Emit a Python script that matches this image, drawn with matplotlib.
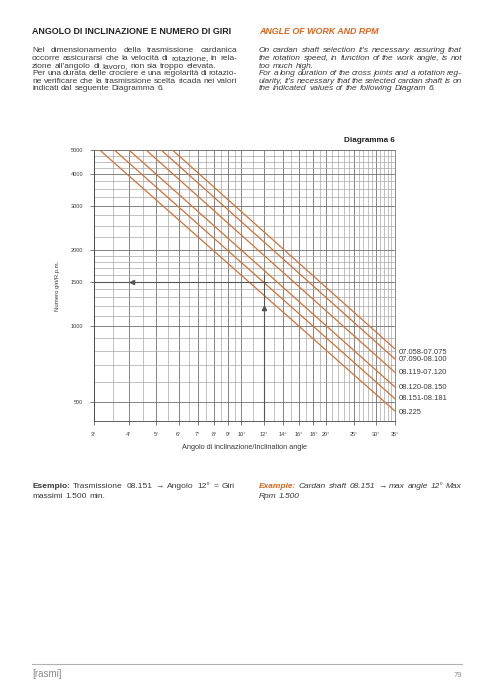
import matplotlib
matplotlib.use("Agg")
import matplotlib.pyplot as plt
from matplotlib.ticker import FixedLocator, NullFormatter

W, H = 494, 700

# --- chart data ---
models = ["07.058-07.075", "07.090-08.100", "08.119-07.120",
          "08.120-08.150", "08.151-08.181", "08.225"]
angle_at_5000 = [5.7, 5.2, 4.6, 4.0, 3.55, 3.15]   # angle where each line leaves the top
rpm_at_35 = [812, 740, 655, 573, 515, 460]          # rpm where each line meets 35 deg
x_ticks = [3, 4, 5, 6, 7, 8, 9, 10, 12, 14, 16, 18, 20, 25, 30, 35]
y_ticks = [500, 1000, 1500, 2000, 3000, 4000, 5000]
x_minor = [3.5, 4.5, 5.5, 6.5, 7.5, 8.5, 9.5, 11, 13, 15, 17, 19,
           21, 22, 23, 24, 26, 27, 28, 29, 31, 32, 33, 34]
y_minor = [600, 700, 800, 900, 1100, 1200, 1300, 1400, 1600, 1700, 1800, 1900,
           2250, 2500, 2750, 3250, 3500, 3750, 4250, 4500, 4750]
example_angle = 12
example_rpm = 1500

ORANGE = "#d9661f"
LINE_ORANGE = "#cf7236"
TXT = "#3a3a3a"
BODY = 6.0

plt.rcParams['font.family'] = ['Liberation Sans', 'DejaVu Sans']

fig = plt.figure(figsize=(W / 100, H / 100), dpi=100)
renderer = fig.canvas.get_renderer()


def fx(x):
    return x / W


def fy(y):
    return 1 - y / H


def text_line(x0, x1, y, words, size=BODY, justify=True, **kw):
    # words: list of (word, extra style); spread to fill x0..x1 when justified
    objs = []
    for w, st in words:
        opts = dict(fontsize=size, color=TXT, va='baseline', ha='left')
        opts.update(kw)
        opts.update(st)
        objs.append(fig.text(fx(x0), fy(y), w, **opts))
    widths = [o.get_window_extent(renderer).width for o in objs]
    if justify and len(objs) > 1:
        gap = (x1 - x0 - sum(widths)) / (len(objs) - 1)
    else:
        gap = size * 100 / 72 * 0.3
    x = x0
    for o, wd in zip(objs, widths):
        o.set_x(fx(x))
        x += wd + gap


def para(x0, x1, y0, lines, justify_flags, step=7.6, **kw):
    for i, (ln, j) in enumerate(zip(lines, justify_flags)):
        text_line(x0, x1, y0 + i * step, [(w, {}) for w in ln.split()], justify=j, **kw)


# --- headings and body text ---
fig.text(fx(32), fy(34.3), "ANGOLO DI INCLINAZIONE E NUMERO DI GIRI",
         fontsize=6.4, fontweight='bold', color='#222222', va='baseline')
fig.text(fx(259), fy(34.3), "ANGLE OF WORK AND RPM",
         fontsize=6.4, fontweight='bold', style='italic', color=ORANGE, va='baseline')

left_lines = [
    "Nel dimensionamento della trasmissione cardanica",
    "occorre assicurarsi che la velocità di rotazione, in rela-",
    "zione all'angolo di lavoro, non sia troppo elevata.",
    "Per una durata delle crociere e una regolarità di rotazio-",
    "ne verificare che la trasmissione scelta ricada nei valori",
    "indicati dal seguente Diagramma 6.",
]
right_lines = [
    "On cardan shaft selection it's necessary assuring that",
    "the rotation speed, in function of the work angle, is not",
    "too much high.",
    "For a long duration of the cross joints and a rotation reg-",
    "ularity, it's necessary that the selected cardan shaft is on",
    "the indicated values of the following Diagram 6.",
]
flags = [True, True, False, True, True, False]
para(32, 237, 52.5, left_lines, flags)
para(259, 462, 52.5, right_lines, flags, style='italic')

fig.text(fx(395), fy(141.7), "Diagramma 6", fontsize=5.9, fontweight='bold',
         color='#222222', ha='right', va='baseline')

# --- chart ---
ax = fig.add_axes([fx(93.7), fy(421.1), (395 - 93.7) / W, (421.1 - 150) / H])
ax.set_xscale('log')
ax.set_yscale('log')

label_dy = [-2.2, 0, 0, 0, 0, -1.2]
for m, a0, r1, dy in zip(models, angle_at_5000, rpm_at_35, label_dy):
    ax.plot([a0, 35], [5000, r1], color=LINE_ORANGE, lw=0.9, solid_capstyle='butt', zorder=3)
    ax.annotate(m, xy=(35, r1), xytext=(2.5, dy), textcoords='offset points',
                fontsize=5.4, color=TXT, va='center', ha='left', annotation_clip=False)

# example arrows
ax.plot([example_angle, example_angle], [420, 1600], color='#555555', lw=0.8, zorder=4)
ax.plot([3, example_angle * 1.025], [example_rpm, example_rpm], color='#555555', lw=0.8, zorder=4)
ax.plot(example_angle, 1180, marker='^', ms=3, color='#555555', zorder=5)
ax.plot(4.1, example_rpm, marker='<', ms=3, color='#555555', zorder=5)

ax.set_xlim(3, 35)
ax.set_ylim(420, 5000)
ax.xaxis.set_major_locator(FixedLocator(x_ticks))
ax.xaxis.set_minor_locator(FixedLocator(x_minor))
ax.yaxis.set_major_locator(FixedLocator(y_ticks))
ax.yaxis.set_minor_locator(FixedLocator(y_minor))
ax.set_xticklabels([f"{t}°" for t in x_ticks])
ax.set_yticklabels([str(t) for t in y_ticks])
ax.xaxis.set_minor_formatter(NullFormatter())
ax.yaxis.set_minor_formatter(NullFormatter())
ax.tick_params(which='major', length=3, width=0.6, color='#666666',
               labelsize=4.0, labelcolor=TXT, pad=4.5)
ax.tick_params(which='minor', length=0)
ax.grid(which='major', color='#707070', lw=0.6)
ax.grid(which='minor', color='#a8a8a8', lw=0.5)
for s in ax.spines.values():
    s.set_color('#777777')
    s.set_linewidth(0.6)
ax.spines['left'].set_color('#444444')
ax.spines['bottom'].set_color('#444444')

ax.set_xlabel("Angolo di inclinazione/Inclination angle", fontsize=5.3, color=TXT, labelpad=5.5)
ax.set_ylabel("Numero giri/R.p.m.", fontsize=4.3, color=TXT, labelpad=8)

# --- example text ---
ex_left = [("Esempio:", {'fontweight': 'bold'})] + [(w, {}) for w in
           "Trasmissione 08.151 → Angolo 12° = Giri".split()]
text_line(32, 235, 488, ex_left)
text_line(32, 235, 498.3, [(w, {}) for w in "massimi 1.500 min.".split()], justify=False)
ex_right = [("Example:", {'fontweight': 'bold', 'color': ORANGE})] + [(w, {}) for w in
            "Cardan shaft 08.151 → max angle 12° Max".split()]
text_line(259, 462, 488, ex_right, style='italic')
text_line(259, 462, 498.3, [(w, {}) for w in "Rpm 1.500".split()], justify=False, style='italic')

# --- footer ---
fig.add_artist(plt.Line2D([fx(32), fx(462)], [fy(664.3), fy(664.3)], color='#b0b0b0', lw=0.8))
fig.text(fx(32), fy(676.7), "[rasmi]", fontsize=7, color='#8c8c8c', va='baseline')
fig.text(fx(462), fy(677), "79", fontsize=5.4, color='#8c8c8c', ha='right', va='baseline')

fig.savefig("out.png", dpi=100)
